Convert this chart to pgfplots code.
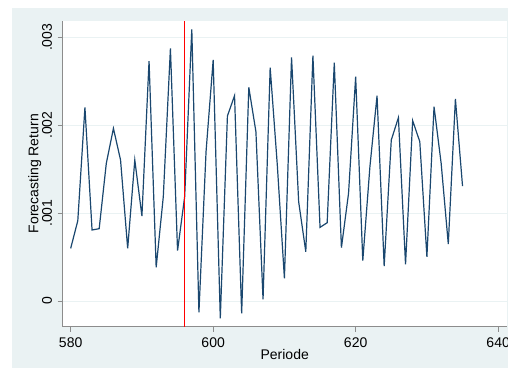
\documentclass[border=0pt]{standalone}
\usepackage{pgfplots}
\pgfplotsset{compat=1.18}
\usepackage{fontspec}
\setmainfont{Liberation Sans}
\definecolor{stbg}{HTML}{EAF2F3}
\definecolor{stnavy}{HTML}{1A476F}
\definecolor{staxis}{HTML}{8C8C8C}
\begin{document}
\begin{tikzpicture}
\path[use as bounding box] (0pt,0pt) rectangle (381pt,276.75pt);
\fill[white] (0pt,0pt) rectangle (381pt,276.75pt);
\fill[stbg] (9pt,0.75pt) rectangle (381pt,270.75pt);
\begin{axis}[
  at={(47.025pt,31.725pt)}, anchor=south west,
  scale only axis, width=333pt, height=229.5pt,
  xmin=578.88, xmax=641.2,
  ymin=-0.000292, ymax=0.003189,
  axis x line*=bottom, axis y line*=left,
  axis line style={staxis, line width=0.8pt},
  axis background/.style={fill=white},
  xtick={580,600,620,640},
  ytick={0,0.001,0.002,0.003},
  yticklabels={0,.001,.002,.003},
  scaled y ticks=false,
  tick align=outside, major tick length=3.75pt,
  tick style={staxis, line width=0.6pt},
  ymajorgrids, grid style={stbg, line width=0.8pt},
  yticklabel style={rotate=90, anchor=south, yshift=0.75pt},
  xticklabel style={yshift=-1pt},
  ticklabel style={font=\fontsize{10.5}{12}\selectfont, text=black},
  label style={font=\fontsize{10.5}{12}\selectfont},
  xlabel={Periode}, ylabel={Forecasting Return},
  xlabel style={at={(axis description cs:0.5,0)}, anchor=north, yshift=-13.5pt},
  ylabel style={at={(axis description cs:0,0.5)}, anchor=south, rotate=0, xshift=0pt, yshift=12.5pt},
  clip=false,
  /pgf/number format/assume math mode=true,
]
\addplot[stnavy, line width=0.9pt] coordinates {
(580,0.000599) (581,0.000914) (582,0.002203) (583,0.000808) (584,0.000823)
(585,0.001566) (586,0.001964) (587,0.001604) (588,0.000599) (589,0.001604)
(590,0.000967) (591,0.002730) (592,0.000383) (593,0.001187) (594,0.002874)
(595,0.000573) (596,0.001187) (597,0.003091) (598,-0.000129) (599,0.001699)
(600,0.002742) (601,-0.000197) (602,0.002105) (603,0.002336) (604,-0.000140)
(605,0.002431) (606,0.001926) (607,0.000019) (608,0.002655) (609,0.001550)
(610,0.000258) (611,0.002772) (612,0.001130) (613,0.000561) (614,0.002791)
(615,0.000838) (616,0.000891) (617,0.002711) (618,0.000607) (619,0.001225)
(620,0.002552) (621,0.000459) (622,0.001528) (623,0.002336) (624,0.000398)
(625,0.001832) (626,0.002086) (627,0.000417) (628,0.002052) (629,0.001813)
(630,0.000504) (631,0.002211) (632,0.001566) (633,0.000648) (634,0.002298)
(635,0.001308)
};
\addplot[red, line width=0.9pt] coordinates {(596,-0.000292) (596,0.003189)};
\end{axis}
\end{tikzpicture}
\end{document}
